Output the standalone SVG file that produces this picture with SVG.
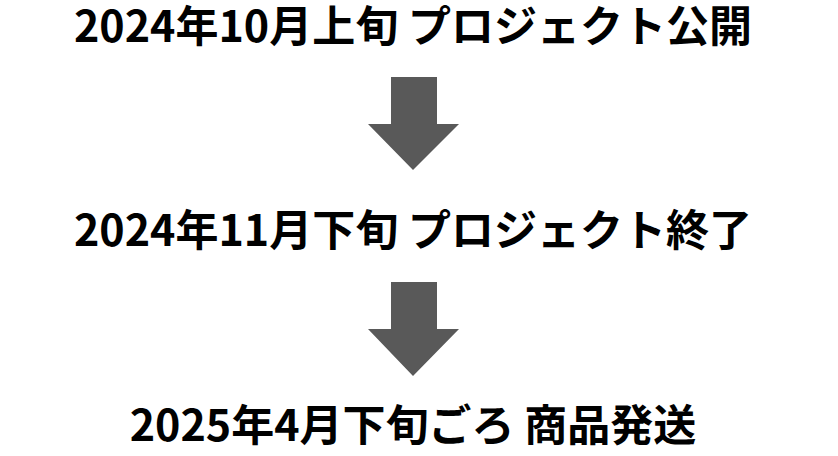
<svg xmlns="http://www.w3.org/2000/svg" width="838" height="456" viewBox="0 0 838 456">
<style>
.t{font-family:"Noto Sans CJK JP","Noto Sans",sans-serif;font-weight:700;font-size:43px;fill:#000;text-anchor:middle}
.a{fill:#595959}
</style>
<rect width="838" height="456" fill="#fff"/>
<g id="n1"><text class="t" x="413" y="42">2024年10月上旬 プロジェクト公開</text></g>
<g id="n2"><text class="t" x="413" y="246">2024年11月下旬 プロジェクト終了</text></g>
<g id="n3"><text class="t" x="413" y="441">2025年4月下旬ごろ 商品発送</text></g>
<g id="connectors">
<polygon class="a" points="391,77 437,77 437,124 459,124 413,170 368,124 391,124"/>
<polygon class="a" points="391,282 437,282 437,329 459,329 413,376 368,329 391,329"/>
</g>
</svg>
